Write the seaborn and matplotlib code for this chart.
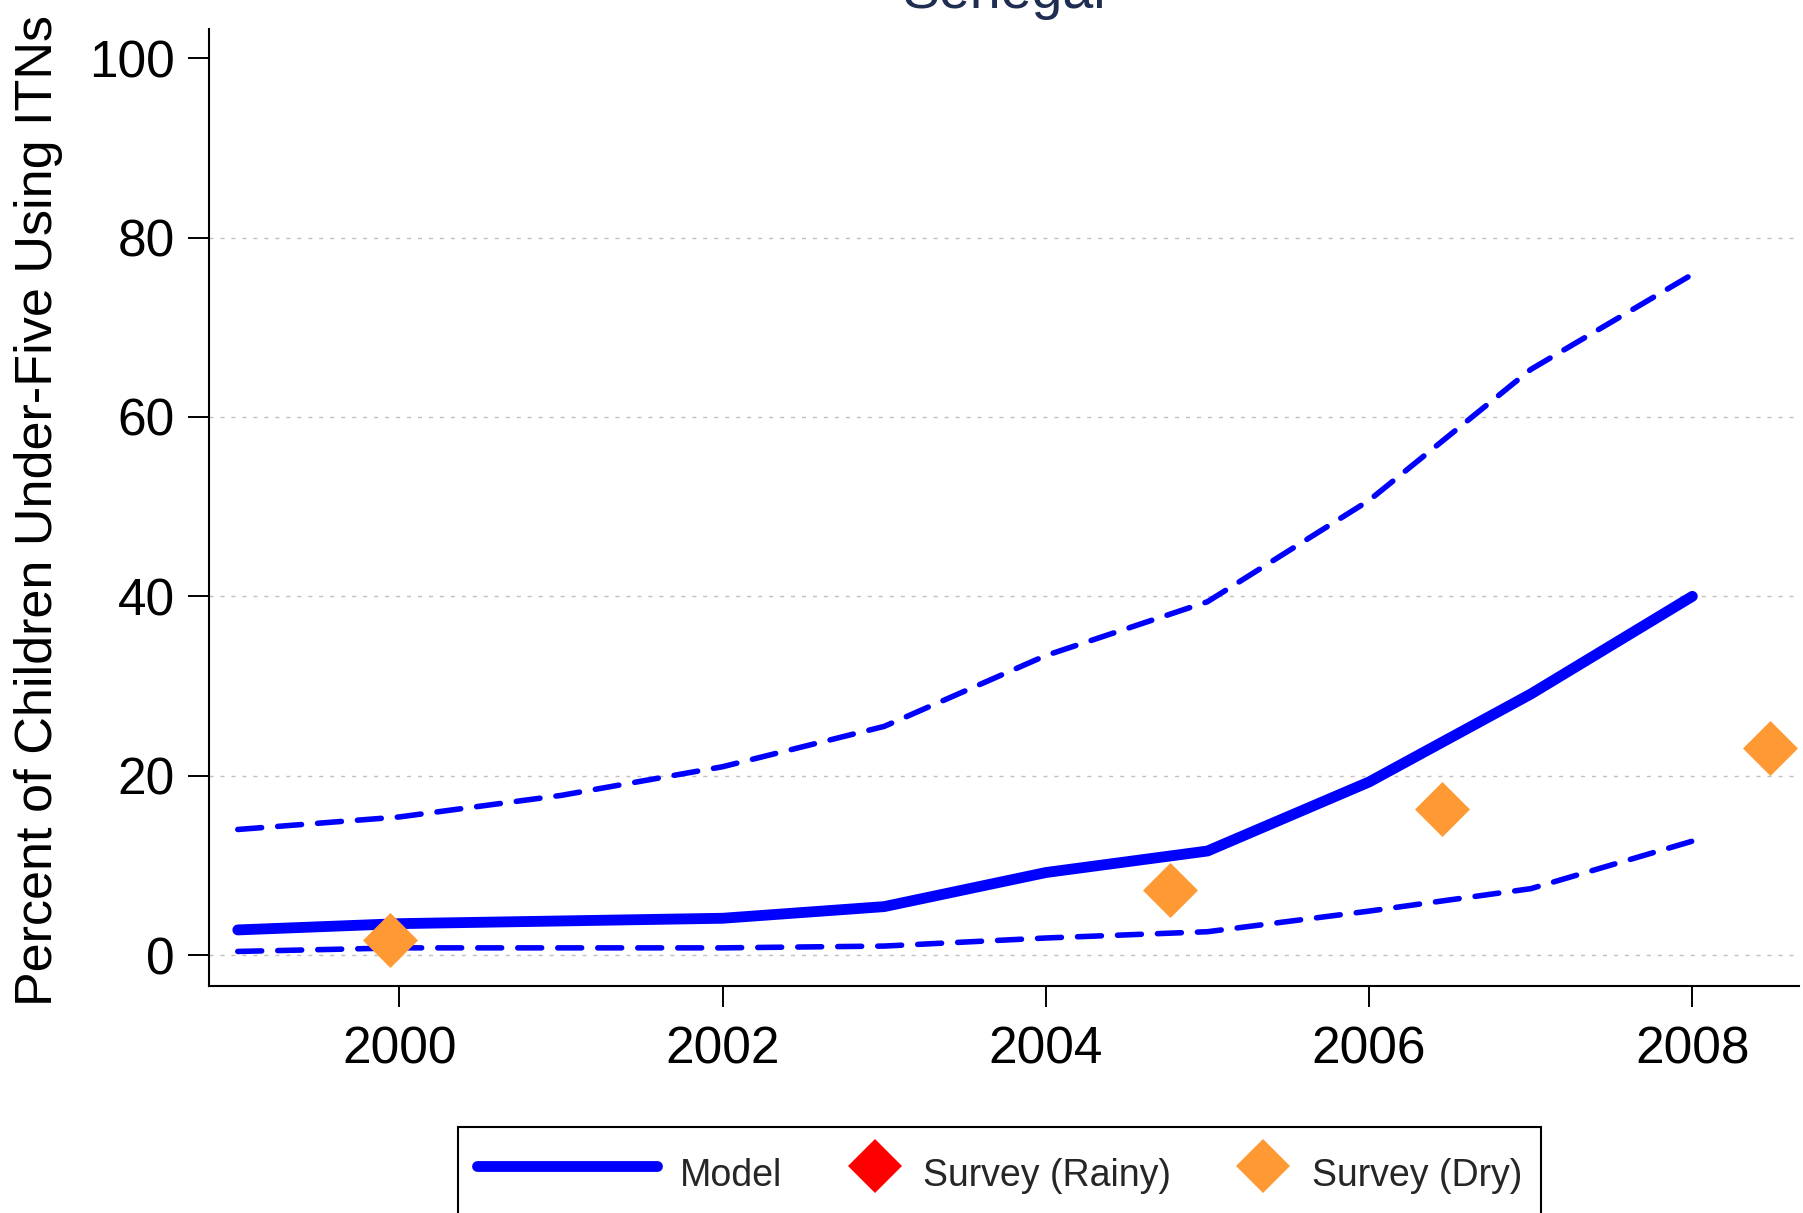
import numpy as np
import pandas as pd
import matplotlib
matplotlib.use("Agg")
import matplotlib.pyplot as plt
import seaborn as sns
from matplotlib.lines import Line2D
from matplotlib.legend_handler import HandlerLine2D

# model estimate with upper / lower bounds
years = [1999, 2000, 2001, 2002, 2003, 2004, 2005, 2006, 2007, 2008]
model = [2.8, 3.5, 3.8, 4.1, 5.4, 9.2, 11.6, 19.3, 29.1, 40.0]
upper = [14.0, 15.4, 17.8, 21.0, 25.5, 33.4, 39.4, 50.7, 65.3, 75.9]
lower = [0.4, 0.8, 0.8, 0.8, 1.0, 1.9, 2.6, 4.9, 7.4, 12.7]

# survey points
dry_years = [1999.94, 2004.77, 2006.45, 2008.48]
dry_values = [1.7, 7.2, 16.3, 23.1]
rainy_years = []
rainy_values = []

x_ticks = [2000, 2002, 2004, 2006, 2008]
y_ticks = [0, 20, 40, 60, 80, 100]
legend_labels = ["Model", "Survey (Rainy)", "Survey (Dry)"]

BLUE = "#0000ff"
RED = "#ff0000"
ORANGE = "#ff9933"
NAVY = "#1e2d50"

df = pd.DataFrame({"year": years, "model": model, "upper": upper, "lower": lower})
dry = pd.DataFrame({"year": dry_years, "value": dry_values})

sns.set_style("white")
plt.rcParams["font.family"] = ["Liberation Sans", "DejaVu Sans"]

W, H = 1803, 1213
fig = plt.figure(figsize=(W / 100, H / 100), dpi=100)
ax_l, ax_r, ax_t, ax_b = 208.7, 1799, 28.7, 985.7
ax = fig.add_axes([ax_l / W, 1 - ax_b / H, (ax_r - ax_l) / W, (ax_b - ax_t) / H])

MS = 28
dash = (0, (4.3, 2.9))
for col in ["upper", "lower"]:
    sns.lineplot(data=df, x="year", y=col, ax=ax, color=BLUE, linewidth=4.0,
                 linestyle=dash, dash_capstyle="round", errorbar=None)
sns.lineplot(data=df, x="year", y="model", ax=ax, color=BLUE, linewidth=7.8,
             solid_capstyle="round", errorbar=None)
sns.scatterplot(data=dry, x="year", y="value", ax=ax, marker="D", s=MS ** 2,
                color=ORANGE, linewidth=0, zorder=5)

ax.set_xlim(1998.82, 2008.66)
ax.set_ylim(-3.42, 103.3)
ax.set_xticks(x_ticks)
ax.set_yticks(y_ticks)
ax.set_xlabel("")
ax.set_ylabel("")

ax.yaxis.grid(True, color="#c0c0c0", linewidth=1.0, linestyle=(0, (2.9, 5.0)))
ax.get_ygridlines()[-1].set_visible(False)
ax.xaxis.grid(False)
ax.set_axisbelow(True)

for side in ["top", "right"]:
    ax.spines[side].set_visible(False)
for side in ["left", "bottom"]:
    ax.spines[side].set_color("black")
    ax.spines[side].set_linewidth(1.5)

ax.tick_params(axis="y", direction="out", length=15, width=1.4, pad=9.4,
               labelsize=37, colors="black", left=True)
ax.tick_params(axis="x", direction="out", length=15, width=1.4, pad=14,
               labelsize=37, colors="black", bottom=True)

ax.set_title("Senegal", fontsize=40, color=NAVY, pad=15)
fig.text(39 / W, 1 - 1006 / H, "Percent of Children Under-Five Using ITNs",
         rotation=90, ha="center", va="bottom", fontsize=37.5, color="black")


class WideLineHandler(HandlerLine2D):
    def __init__(self, width, **kw):
        super().__init__(**kw)
        self.width = width

    def legend_artist(self, legend, orig_handle, fontsize, handlebox):
        handlebox.width = self.width * fontsize
        return super().legend_artist(legend, orig_handle, fontsize, handlebox)


h_model = Line2D([], [], color=BLUE, linewidth=7.8, solid_capstyle="round")
h_rainy = Line2D([], [], color=RED, marker="D", linestyle="none",
                 markersize=MS, markeredgewidth=0)
h_dry = Line2D([], [], color=ORANGE, marker="D", linestyle="none",
               markersize=MS, markeredgewidth=0)

leg = fig.legend([h_model, h_rainy, h_dry], legend_labels,
                 loc="upper left", bbox_to_anchor=(458 / W, 1 - 1127 / H),
                 ncol=3, fontsize=27, frameon=True, fancybox=False,
                 edgecolor="black", framealpha=1, borderpad=0.5,
                 handlelength=1.33, handleheight=1.95, handletextpad=0.62,
                 columnspacing=1.8, borderaxespad=0,
                 handler_map={h_model: WideLineHandler(4.8)})
leg.get_frame().set_linewidth(1.5)

fig.savefig("out.png", dpi=100)
